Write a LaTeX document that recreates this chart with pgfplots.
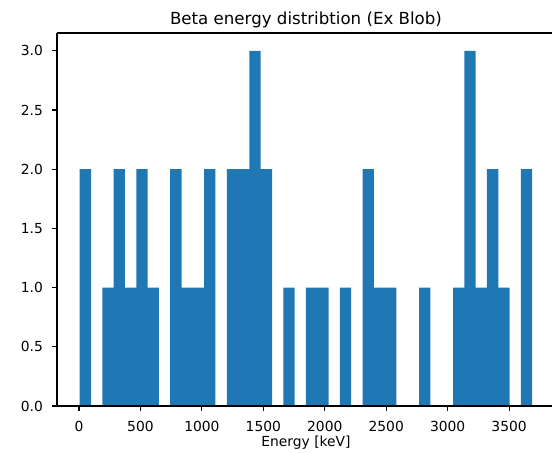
\documentclass[border=0pt]{standalone}
\usepackage{pgfplots}
\pgfplotsset{compat=1.18}
\usepackage{fontspec}
\setmainfont{DejaVu Sans}
\definecolor{mplblue}{HTML}{1F77B4}
\begin{document}
\begin{tikzpicture}
\path[use as bounding box] (-57bp,-47bp) rectangle (495bp,406bp);
\begin{axis}[
  at={(0,0)}, anchor=south west,
  scale only axis, width=495bp, height=373bp,
  xmin=-179, xmax=3849, ymin=0, ymax=3.15,
  every non boxed x axis/.style={},
  every non boxed y axis/.style={},
  axis x line=box, axis y line=left,
  axis line style={-, black, line width=1.11bp},
  axis on top,
  tick align=outside, tick pos=left,
  major tick length=4.86bp,
  tick style={black, line width=1.11bp},
  xtick={0,500,...,3500},
  ytick={0,0.5,...,3},
  scaled x ticks=false, scaled y ticks=false,
  /pgf/number format/assume math mode=true,
  /pgf/number format/1000 sep={},
  ticklabel style={font=\fontsize{13.9}{16}\selectfont, inner sep=0pt},
  yticklabel style={anchor=east, xshift=-9.1bp, /pgf/number format/fixed, /pgf/number format/fixed zerofill, /pgf/number format/precision=1},
  xticklabel style={anchor=north, yshift=-10.4bp},
  xlabel={Energy [keV]},
  xlabel style={at={(axis description cs:0.5,0)}, anchor=base, yshift=-40.7bp, xshift=1.5bp, inner sep=0pt, font=\fontsize{13.9}{16}\selectfont},
  title={Beta energy distribtion (Ex Blob)},
  title style={at={(axis description cs:0.5,1)}, anchor=base, yshift=2.5bp, xshift=1.5bp, inner sep=0pt, font=\fontsize{16.7}{20}\selectfont},
]
\addplot[ybar interval, fill=mplblue, draw=none] coordinates {
(6.0,2) (98.1,0) (190.1,1) (282.2,2) (374.2,1) (466.3,2) (558.3,1) (650.4,0)
(742.4,2) (834.5,1) (926.5,1) (1018.6,2) (1110.6,0) (1202.7,2) (1294.7,2)
(1386.8,3) (1478.8,2) (1570.9,0) (1662.9,1) (1755.0,0) (1847.0,1) (1939.1,1)
(2031.1,0) (2123.2,1) (2215.2,0) (2307.3,2) (2399.3,1) (2491.4,1) (2583.4,0)
(2675.5,0) (2767.5,1) (2859.6,0) (2951.6,0) (3043.7,1) (3135.7,3) (3227.8,1)
(3319.8,2) (3411.9,1) (3503.9,0) (3596.0,2) (3688.0,2)
};
\end{axis}
\end{tikzpicture}
\end{document}
